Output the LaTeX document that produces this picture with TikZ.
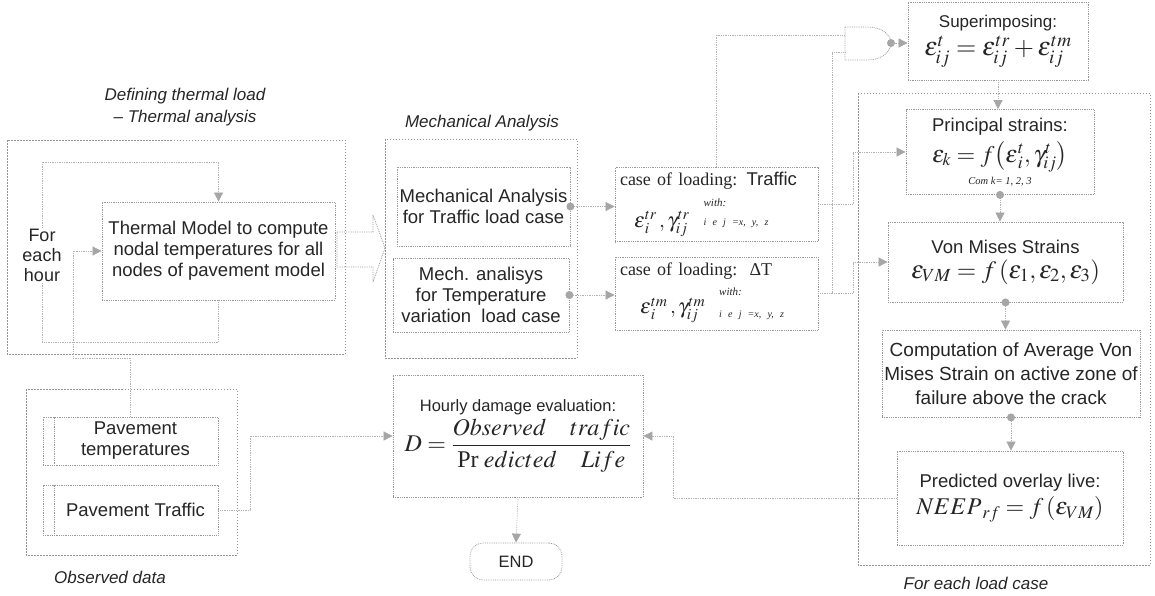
\RequirePackage{fix-cm}
\documentclass[tikz,border=0pt]{standalone}
\usepackage{mathptmx}
\usepackage[no-math]{fontspec}
\setmainfont{Liberation Sans}
\newfontfamily\seriff{Liberation Serif}
\usetikzlibrary{arrows.meta,calc}
\begin{document}
\begin{tikzpicture}[x=1pt,y=-1pt,
  group/.style={draw=gray!85, dash pattern=on 1.5pt off 1.5pt, line width=0.6pt},
  box/.style={draw=gray!80, densely dotted, line width=0.8pt, fill=white, align=center, inner sep=2pt, text=black!85, font=\fontsize{18.5}{21}\selectfont},
  conn/.style={draw=gray!60, densely dotted, line width=0.75pt},
  arr/.style={conn, -{Triangle[length=9pt,width=9pt,color=gray!70]}},
  jdot/.style={circle, fill=gray!70, inner sep=0pt, minimum size=8pt},
  glabel/.style={font=\fontsize{17}{22}\selectfont\itshape, align=center, text=black!85},
  plain/.style={font=\fontsize{18}{20}\selectfont, align=center, text=black!85, fill=white, inner sep=1pt}
]
\useasboundingbox (0,0) rectangle (1155,595);

% ---- group frames
\draw[group] (7,140) rectangle (345,354);
\draw[group] (26,389) rectangle (237,555);
\draw[group] (385,139) rectangle (577,358);
\draw[group] (858,93) rectangle (1150,565);

% ---- group labels
\node[glabel] (tTitle) at (185,107) {Defining thermal load\\– Thermal analysis};
\node[glabel] (mTitle) at (482,123) {Mechanical Analysis};
\node[glabel] (oTitle) at (110,577) {Observed data};
\node[glabel] (lTitle) at (976,583) {For each load case};

% ---- thermal part
\node[box, minimum width=233pt, minimum height=98pt] (tm) at (218.5,251)
  {Thermal Model to compute\\nodal temperatures for all\\nodes of pavement model};
\node[plain] (hour) at (42,255) {For\\each\\hour};

\coordinate (lB) at (42,342);
\coordinate (lT) at (42,162);
\draw[conn] (tm.south) |- (lB) -- (hour.south);
\draw[arr] (hour.north) -- (lT) -| (tm.north);

% big hollow arrow to mechanical analysis
\draw[draw=gray!80, densely dotted, line width=0.8pt]
  (337,232) -- (373,232) -- (373,215) -- (385,248) -- (373,282) -- (373,267) -- (337,267) -- cycle;

% ---- observed data
\node[box, minimum width=175pt, minimum height=48pt] (pt) at (130.5,441) {\hspace*{10pt}Pavement\\\hspace*{10pt}temperatures};
\node[box, minimum width=175pt, minimum height=50pt] (pv) at (130.5,510) {\hspace*{10pt}Pavement Traffic};
\draw[draw=gray!80, densely dotted, line width=0.8pt] ($(pt.north west)+(12,0)$) -- ($(pt.south west)+(12,0)$);
\draw[draw=gray!80, densely dotted, line width=0.8pt] ($(pv.north west)+(12,0)$) -- ($(pv.south west)+(12,0)$);

\coordinate (hA) at (73,358);
\draw[arr] (pt.north) |- (hA) |- (tm.west);

% ---- mechanical analysis
\node[box, minimum width=173pt, minimum height=79pt] (mt) at (483.5,206.5)
  {Mechanical Analysis\\for Traffic load case};
\node[box, minimum width=176pt, minimum height=74pt] (mm) at (481,295)
  {Mech. analisys\\for Temperature\\variation\ \ load case};

% ---- load cases
\node[box, minimum width=203pt, minimum height=73pt, text width=193pt, align=left, inner sep=5pt] (ct) at (716.5,204.5)
  {{\seriff\fontsize{18}{20}\selectfont case of loading: }Traffic\\[1pt]
   \hspace*{14pt}{\fontsize{21}{22}\selectfont$\varepsilon^{tr}_{\,i}\,,\gamma^{tr}_{ij}$}\hspace{14pt}%
   \raisebox{2pt}{\begin{tabular}[b]{@{}l@{}}{\seriff\itshape\fontsize{11}{11}\selectfont with:}\\[-2pt]{\seriff\itshape\fontsize{10}{10}\selectfont i e j =x, y, z}\end{tabular}}};
\node[box, minimum width=203pt, minimum height=73pt, text width=193pt, align=left, inner sep=5pt] (cm) at (716.5,293.5)
  {{\seriff\fontsize{18}{20}\selectfont case of loading:\ \ ΔT}\\[1pt]
   \hspace*{20pt}{\fontsize{21}{22}\selectfont$\varepsilon^{tm}_{\,i}\,,\gamma^{tm}_{ij}$}\hspace{14pt}%
   \raisebox{-4pt}{\begin{tabular}[b]{@{}l@{}}{\seriff\itshape\fontsize{11}{11}\selectfont with:}\\[1pt]{\seriff\itshape\fontsize{10}{10}\selectfont i e j =x, y, z}\end{tabular}}};

\draw[arr] (mt.east) -- (mt.east -| ct.west);
\draw[arr] (mm.east) -- (mm.east -| cm.west);
\node[jdot] (d1) at (mt.east) {};
\node[jdot] (d2) at (mm.east) {};

% ---- AND gate
\draw[draw=gray!80, densely dotted, line width=0.8pt]
  (845,27) -- (868,27) .. controls (882,27) and (891,35) .. (891,43)
  .. controls (891,51) and (882,60) .. (868,60) -- (845,60) -- cycle;
\coordinate (gA) at (845,35);
\coordinate (gB) at (845,52);
\coordinate (gO) at (891,43);
\node[jdot] (d3) at (gO) {};

% ---- right column
\node[box, minimum width=180pt, minimum height=78pt, font=\fontsize{17}{21}\selectfont] (sup) at (998,41)
  {Superimposing:\\[4pt]{\fontsize{26}{26}\selectfont$\varepsilon^{t}_{ij}=\varepsilon^{tr}_{ij}+\varepsilon^{tm}_{ij}$}};
\node[box, minimum width=188pt, minimum height=85pt] (pr) at (1000,152)
  {Principal strains:\\[5pt]{\fontsize{24}{24}\selectfont$\varepsilon_{k}=f\bigl(\varepsilon^{t}_{\,i},\gamma^{t}_{ij}\bigr)$}\\[1pt]{\seriff\itshape\fontsize{10.5}{11}\selectfont Com k= 1, 2, 3}};
\node[box, minimum width=235pt, minimum height=80pt] (vm) at (1005.5,262)
  {Von Mises Strains\\[4pt]{\fontsize{25}{26}\selectfont$\varepsilon_{VM}=f\left(\varepsilon_{1},\varepsilon_{2},\varepsilon_{3}\right)$}};
\node[box, minimum width=258pt, minimum height=87pt, font=\fontsize{19}{24}\selectfont] (cp) at (1011,373.5)
  {Computation of Average Von\\Mises Strain on active zone of\\failure above the crack};
\node[box, minimum width=226pt, minimum height=94pt] (pd) at (1010,498)
  {Predicted overlay live:\\[4pt]{\fontsize{24}{26}\selectfont$NEEP_{\;rf}=f\left(\varepsilon_{VM}\right)$}};

% ---- hourly damage and end
\node[box, minimum width=250pt, minimum height=122pt, font=\fontsize{16.5}{20}\selectfont] (hd) at (518,436)
  {Hourly damage evaluation:\\[3pt]{\fontsize{24}{26}\selectfont$D=\displaystyle\frac{Observed\quad trafic}{\mbox{\seriff Pr}\;edicted\quad Life}$}};
\node[box, rounded corners=13pt, minimum width=92pt, minimum height=37pt, font=\fontsize{16.5}{20}\selectfont] (end) at (516,561.5) {END};

% ---- connectors
\coordinate (vA) at (832,0);
\coordinate (vB) at (853,0);
\coordinate (vC) at (673,0);
\coordinate (vD) at (250,0);

\draw[conn] (ct.north) |- (gA);
\draw[conn] (cm.east) -- (cm.east -| vA) |- (gB);
\draw[arr] (gO) -- (gO -| sup.west);
\draw[arr] (ct.east) -| (vB |- pr.west) -- (pr.west);
\draw[arr] (cm.east) -| (vB |- vm.west) -- (vm.west);

\draw[arr] (sup.south) -- (sup.south |- pr.north);
\draw[arr] (pr.south) -- (pr.south |- vm.north);
\draw[arr] (vm.south) -- (vm.south |- cp.north);
\draw[arr] (cp.south) -- (cp.south |- pd.north);
\node[jdot] (d4) at (pr.south) {};
\node[jdot] (d5) at (vm.south) {};
\node[jdot] (d6) at (cp.south) {};

\draw[arr] (pd.west) -| (vC |- hd.east) -- (hd.east);
\draw[arr] (pv.east) -| (vD |- hd.west) -- (hd.west);
\draw[arr] (hd.south) -- (end.north);
\end{tikzpicture}
\end{document}
